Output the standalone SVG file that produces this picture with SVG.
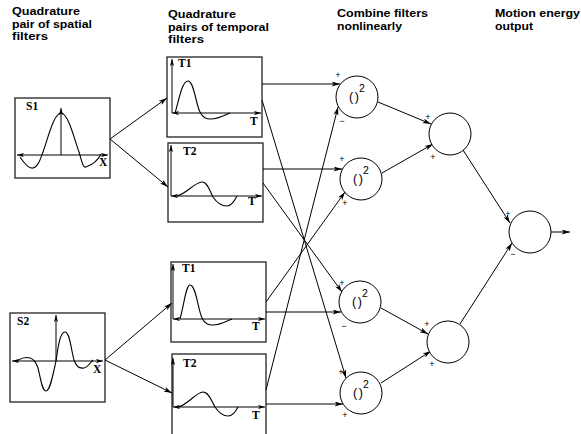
<svg xmlns="http://www.w3.org/2000/svg" width="581" height="434" viewBox="0 0 581 434">
  <style>
    .hdr { font-family: "Liberation Sans", Arial, sans-serif; font-weight: bold; font-size: 11px; fill: #000; }
    .lbl { font-family: "Liberation Serif", "Times New Roman", serif; font-weight: bold; font-size: 11.5px; fill: #000; }
    .frame { fill: #fff; stroke: #222; stroke-width: 1.3; }
    .axis { fill: none; stroke: #000; stroke-width: 1; marker-end: url(#tip); }
    .axis2 { fill: none; stroke: #000; stroke-width: 1; marker-start: url(#tip); marker-end: url(#tip); }
    .wave { fill: none; stroke: #000; stroke-width: 1.1; }
    .unit { fill: #fff; stroke: #000; stroke-width: 1; }
    .sq { font-family: "Liberation Sans", Arial, sans-serif; font-size: 12.5px; letter-spacing: 1.5px; fill: #000; }
    .sup { font-family: "Liberation Sans", Arial, sans-serif; font-size: 10.5px; fill: #000; }
    .sign { font-family: "Liberation Sans", Arial, sans-serif; font-size: 9px; fill: #000; text-anchor: middle; }
    .wire { fill: none; stroke: #000; stroke-width: 1; marker-end: url(#arrow); }
  </style>
  <defs>
    <marker id="arrow" viewBox="0 0 10 6" refX="10" refY="3" markerWidth="9" markerHeight="5" orient="auto" markerUnits="userSpaceOnUse">
      <path d="M0,0 L10,3 L0,6 L2.5,3 z" fill="#000"/>
    </marker>
    <marker id="tip" viewBox="0 0 10 6" refX="10" refY="3" markerWidth="7" markerHeight="4.5" orient="auto-start-reverse" markerUnits="userSpaceOnUse">
      <path d="M0,0 L10,3 L0,6 L2.5,3 z" fill="#000"/>
    </marker>
  </defs>

  <rect width="581" height="434" fill="#fff"/>

  <!-- column headings -->
  <g id="headings">
    <text class="hdr" x="12" y="15" textLength="68" lengthAdjust="spacingAndGlyphs">Quadrature</text>
    <text class="hdr" x="12" y="27.5" textLength="80" lengthAdjust="spacingAndGlyphs">pair of spatial</text>
    <text class="hdr" x="12" y="40" textLength="36" lengthAdjust="spacingAndGlyphs">filters</text>
    <text class="hdr" x="168" y="18" textLength="68" lengthAdjust="spacingAndGlyphs">Quadrature</text>
    <text class="hdr" x="168" y="30.5" textLength="101" lengthAdjust="spacingAndGlyphs">pairs of temporal</text>
    <text class="hdr" x="168" y="43" textLength="36" lengthAdjust="spacingAndGlyphs">filters</text>
    <text class="hdr" x="337" y="17" textLength="91" lengthAdjust="spacingAndGlyphs">Combine filters</text>
    <text class="hdr" x="337" y="29.5" textLength="65" lengthAdjust="spacingAndGlyphs">nonlinearly</text>
    <text class="hdr" x="495" y="17" textLength="85" lengthAdjust="spacingAndGlyphs">Motion energy</text>
    <text class="hdr" x="495" y="29.5" textLength="38" lengthAdjust="spacingAndGlyphs">output</text>
  </g>

  <!-- spatial filters -->
  <g id="s1">
    <rect class="frame" x="15" y="98" width="95" height="80"/>
    <text class="lbl" x="26" y="110">S1</text>
    <path class="axis2" d="M17,155 H108"/>
    <path class="axis" d="M61,155 V108"/>
    <path class="wave" d="M20,157 C24,163 29,169 33,168 C38,167 40,160 43,152 C48,138 54,113 61,113 C68,113 74,138 79,152 C82,162 83,168 86,167 C92,165 97,162 101,154"/>
    <text class="lbl" x="99" y="166">X</text>
  </g>
  <g id="s2">
    <rect class="frame" x="10" y="313" width="95" height="89"/>
    <text class="lbl" x="17" y="325">S2</text>
    <path class="axis2" d="M12,361 H103"/>
    <path class="axis" d="M56,361 V315"/>
    <path class="wave" d="M17,361 C21,358 26,357 30,358 C34,359 36,362 38,368 C41,380 42,391 46,391 C50,391 53,375 56,361 C58,347 60,332 65,332 C70,332 71,350 74,360 C76,366 79,369 84,368 C88,367 90,363 93,360"/>
    <text class="lbl" x="93" y="373">X</text>
  </g>

  <!-- temporal filters -->
  <g id="t1a">
    <rect class="frame" x="167" y="57" width="95" height="80"/>
    <text class="lbl" x="178" y="67">T1</text>
    <path class="axis2" d="M172,113 H261"/>
    <path class="axis" d="M172,113 V59"/>
    <path class="wave" d="M175,113 C179,100 182,81 188,81 C194,81 196,105 200,112 C203,118 206,119 211,119 C218,119 225,115 230,113"/>
    <text class="lbl" x="250" y="125">T</text>
  </g>
  <g id="t2a">
    <rect class="frame" x="168" y="143" width="95" height="79"/>
    <text class="lbl" x="183" y="155">T2</text>
    <path class="axis2" d="M171,196 H262"/>
    <path class="axis" d="M171,196 V145"/>
    <path class="wave" d="M177,196 C186,194 195,182 202,182 C208,182 210,192 213,197 C217,203 222,206 227,206 C232,206 235,200 237,196"/>
    <text class="lbl" x="248" y="205">T</text>
  </g>
  <g id="t1b">
    <rect class="frame" x="171" y="262" width="95" height="80"/>
    <text class="lbl" x="182" y="272">T1</text>
    <path class="axis2" d="M173,319 H265"/>
    <path class="axis" d="M173,319 V264"/>
    <path class="wave" d="M180,319 C184,305 186,285 190,285 C196,285 198,310 202,318 C205,324 208,325 213,325 C220,325 227,321 232,319"/>
    <text class="lbl" x="252" y="330">T</text>
  </g>
  <g id="t2b">
    <rect class="frame" x="172" y="354" width="94" height="90"/>
    <text class="lbl" x="183" y="367">T2</text>
    <path class="axis2" d="M173,407 H265"/>
    <path class="axis" d="M173,407 V358"/>
    <path class="wave" d="M178,407 C188,405 196,392 203,392 C209,392 212,402 215,407 C219,413 223,416 228,416 C233,416 236,411 238,407"/>
    <text class="lbl" x="252" y="419">T</text>
  </g>

  <!-- connectors -->
  <g id="connectors">
    <path class="wire" d="M110,139 L167,98"/>
    <path class="wire" d="M110,139 L168,187"/>
    <path class="wire" d="M105,360 L172,303"/>
    <path class="wire" d="M105,360 L172,393"/>

    <path class="wire" d="M262,84 H340"/>
    <path class="wire" d="M262,100 L346,378"/>
    <path class="wire" d="M263,169 H342"/>
    <path class="wire" d="M263,183 L342,292"/>
    <path class="wire" d="M266,302 L345,192"/>
    <path class="wire" d="M266,312 H341"/>
    <path class="wire" d="M266,390 L338,107"/>
    <path class="wire" d="M266,404 H343"/>

    <path class="wire" d="M378,102 L431,124"/>
    <path class="wire" d="M382,173 L433,144"/>
    <path class="wire" d="M381,308 L428,334"/>
    <path class="wire" d="M381,383 L431,351"/>

    <path class="wire" d="M463,150 L510,223"/>
    <path class="wire" d="M460,324 L512,243"/>
    <path class="wire" d="M551,232 H570"/>
  </g>

  <!-- squaring units -->
  <g id="sq1">
    <circle class="unit" cx="357" cy="97" r="21"/>
    <text class="sq" x="349" y="101">()</text>
    <text class="sup" x="359" y="92">2</text>
    <text class="sign" x="338" y="78">+</text>
    <text class="sign" x="342" y="124">−</text>
  </g>
  <g id="sq2">
    <circle class="unit" cx="361" cy="179" r="21"/>
    <text class="sq" x="353" y="183">()</text>
    <text class="sup" x="363" y="174">2</text>
    <text class="sign" x="342" y="162">+</text>
    <text class="sign" x="345" y="206">+</text>
  </g>
  <g id="sq3">
    <circle class="unit" cx="360" cy="302" r="21"/>
    <text class="sq" x="352" y="306">()</text>
    <text class="sup" x="362" y="297">2</text>
    <text class="sign" x="342" y="286">+</text>
    <text class="sign" x="344" y="329">−</text>
  </g>
  <g id="sq4">
    <circle class="unit" cx="361" cy="393" r="21"/>
    <text class="sq" x="353" y="397">()</text>
    <text class="sup" x="363" y="388">2</text>
    <text class="sign" x="341" y="375">+</text>
    <text class="sign" x="345" y="418">+</text>
  </g>

  <!-- summing units -->
  <g id="sum1">
    <circle class="unit" cx="450" cy="134" r="21"/>
    <text class="sign" x="428" y="120">+</text>
    <text class="sign" x="433" y="160">+</text>
  </g>
  <g id="sum2">
    <circle class="unit" cx="448" cy="342" r="21"/>
    <text class="sign" x="427" y="327">+</text>
    <text class="sign" x="432" y="367">+</text>
  </g>

  <!-- opponent output -->
  <g id="output">
    <circle class="unit" cx="530" cy="232" r="21"/>
    <text class="sign" x="508" y="217">+</text>
    <text class="sign" x="513" y="257">−</text>
  </g>
</svg>
